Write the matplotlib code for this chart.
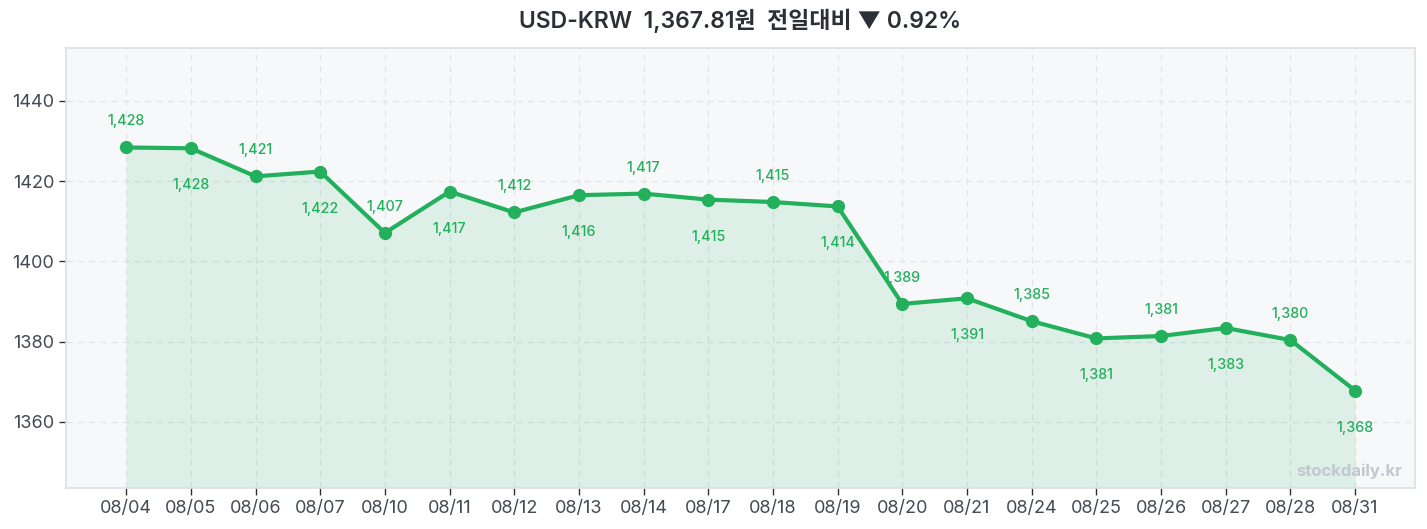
import matplotlib
matplotlib.use("Agg")
import matplotlib.pyplot as plt
import numpy as np

plt.rcParams['font.family'] = ['Inter', 'Noto Sans CJK KR', 'DejaVu Sans']

dates = ["08/04", "08/05", "08/06", "08/07", "08/10", "08/11", "08/12", "08/13", "08/14", "08/17",
         "08/18", "08/19", "08/20", "08/21", "08/24", "08/25", "08/26", "08/27", "08/28", "08/31"]
rates = [1428.4, 1428.2, 1421.2, 1422.4, 1407.1, 1417.4, 1412.2, 1416.5, 1416.9, 1415.4,
         1414.8, 1413.7, 1389.4, 1390.8, 1385.1, 1380.8, 1381.4, 1383.4, 1380.4, 1367.81]
title = "USD-KRW  1,367.81원  전일대비 ▼ 0.92%"

green = "#23b05c"
fig = plt.figure(figsize=(14.27, 5.29), dpi=100)
ax = fig.add_axes([0.04625, 0.0775, 0.9455, 0.8318])
ax.set_facecolor("#f7f8fa")

x = np.arange(len(dates))
ymin = min(rates) - 24.3
ymax = max(rates) + 24.8
ax.fill_between(x, rates, ymin, color=green, alpha=0.12, linewidth=0)
ax.plot(x, rates, color=green, linewidth=3, marker='o', markersize=8.5, zorder=3)

for i, v in enumerate(rates):
    if i % 2 == 0:
        ax.annotate(f"{v:,.0f}", (i, v), xytext=(0, 26), textcoords='offset pixels',
                    ha='center', va='center', fontsize=10.3, fontweight='medium', color=green)
    else:
        ax.annotate(f"{v:,.0f}", (i, v), xytext=(0, -37), textcoords='offset pixels',
                    ha='center', va='center', fontsize=10.3, fontweight='medium', color=green)

ax.set_xlim(-0.93, len(dates) - 1 + 0.93)
ax.set_ylim(ymin, ymax)
ax.set_xticks(x)
ax.set_xticklabels(dates)
ax.set_yticks([1360, 1380, 1400, 1420, 1440])
ax.tick_params(axis='both', labelsize=13, colors="#333333", labelcolor="#444a55", length=5, width=1)
ax.grid(True, linestyle=(0, (5, 4)), color="#e3e5ea", linewidth=0.9)
ax.set_axisbelow(True)
for s in ax.spines.values():
    s.set_color("#dcdfe4")
    s.set_linewidth(1.2)

ax.text(0.99, 0.02, "stockdaily.kr", transform=ax.transAxes, ha='right', va='bottom',
        fontsize=12, fontweight='bold', color="#c3c7cf")

fig.text(0.5188, 0.960, title, ha='center', va='center', fontsize=16.5,
         fontweight='semibold', color="#2b2f36")

fig.savefig("out.png", dpi=100, facecolor="white")
